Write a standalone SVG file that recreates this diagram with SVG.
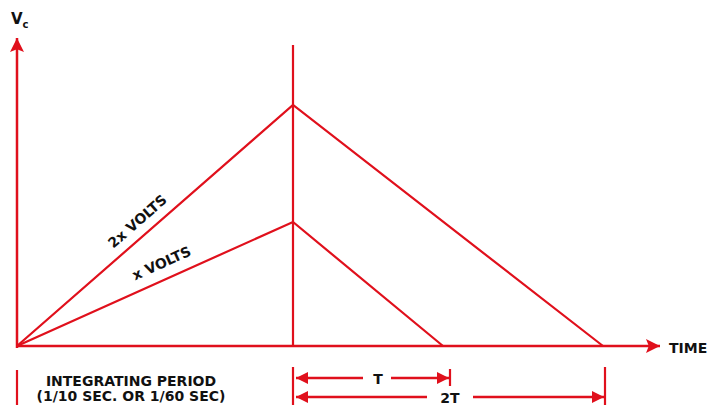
<svg xmlns="http://www.w3.org/2000/svg" width="709" height="405" viewBox="0 0 709 405">
<defs>
<marker id="big" viewBox="0 0 10 10" refX="10" refY="5" markerWidth="26" markerHeight="14" markerUnits="userSpaceOnUse" orient="auto-start-reverse">
<path d="M0,0 L10,5 L0,10 L2,5 Z" fill="#e0101c"/>
</marker>
<marker id="dim" viewBox="0 0 10 10" refX="10" refY="5" markerWidth="24" markerHeight="12" markerUnits="userSpaceOnUse" orient="auto-start-reverse">
<path d="M0,0 L10,5 L0,10 Z" fill="#e0101c"/>
</marker>
</defs>
<style>
.ln{stroke:#e0101c;stroke-width:2.2;fill:none}
.ax{stroke:#e0101c;stroke-width:2.5;fill:none}
.t{font-family:"DejaVu Sans","Liberation Sans",Arial,sans-serif;font-weight:bold;fill:#111}
</style>
<rect width="709" height="405" fill="#fff"/>
<g id="connectors">
<line class="ax" x1="17" y1="348" x2="17" y2="38" marker-end="url(#big)"/>
<line class="ax" x1="16" y1="346" x2="660" y2="346" marker-end="url(#big)"/>
<line class="ln" x1="293" y1="45" x2="293" y2="346"/>
<polyline class="ln" points="17,346 293,105 603,346"/>
<polyline class="ln" points="17,346 293,222 443,346"/>
<line class="ln" x1="17" y1="370" x2="17" y2="405"/>
<line class="ln" x1="293" y1="367" x2="293" y2="405"/>
<line class="ln" x1="450" y1="369" x2="450" y2="386"/>
<line class="ln" x1="605" y1="367" x2="605" y2="405"/>
<line class="ax" x1="363" y1="378" x2="296" y2="378" marker-end="url(#dim)"/>
<line class="ax" x1="391" y1="378" x2="449" y2="378" marker-end="url(#dim)"/>
<line class="ax" x1="427" y1="397" x2="296" y2="397" marker-end="url(#dim)"/>
<line class="ax" x1="473" y1="397" x2="604" y2="397" marker-end="url(#dim)"/>
</g>
<g id="labels">
<text class="t" x="11" y="24" font-size="15">V<tspan font-size="10" dy="4">c</tspan></text>
<text class="t" x="669" y="353" font-size="14">TIME</text>
<text class="t" x="138" y="226" font-size="14" text-anchor="middle" transform="rotate(-41.1 138 222)">2x VOLTS</text>
<text class="t" x="162" y="268" font-size="14" text-anchor="middle" transform="rotate(-24.2 162 264)">x VOLTS</text>
<text class="t" x="131" y="386" font-size="14" text-anchor="middle">INTEGRATING PERIOD</text>
<text class="t" x="131" y="401" font-size="14" text-anchor="middle">(1/10 SEC. OR 1/60 SEC)</text>
<text class="t" x="378" y="384" font-size="14" text-anchor="middle">T</text>
<text class="t" x="450" y="403" font-size="14" text-anchor="middle">2T</text>
</g>
</svg>
